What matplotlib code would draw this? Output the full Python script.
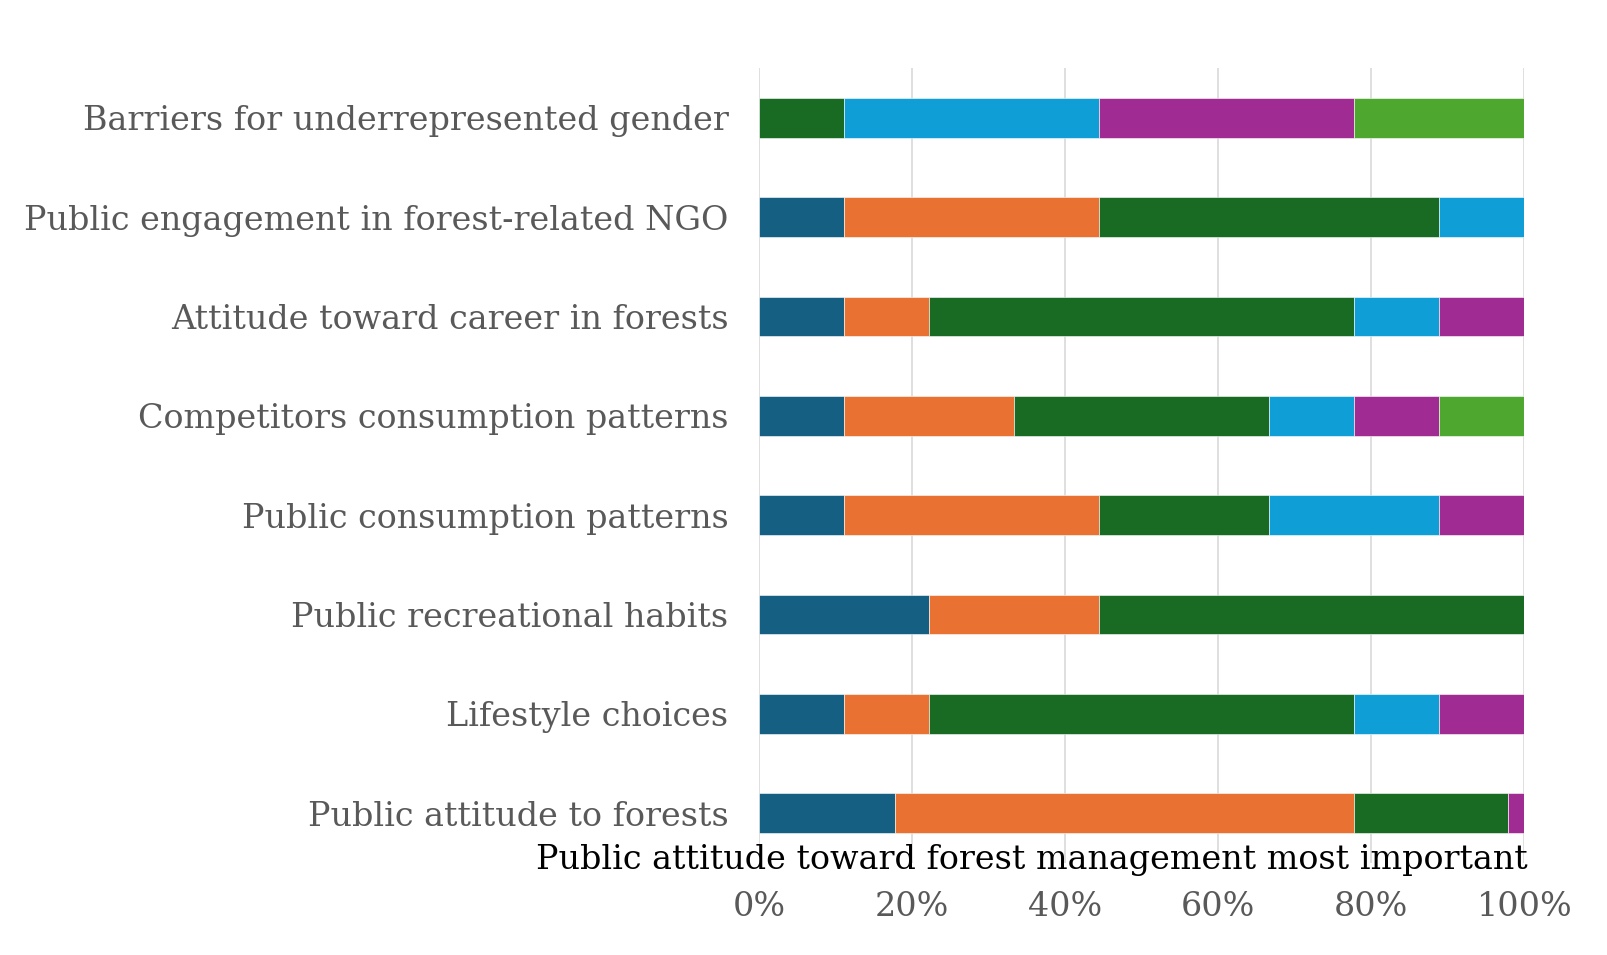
import numpy as np
import matplotlib.pyplot as plt

# categories, bottom to top
categories = [
    "Public attitude to forests",
    "Lifestyle choices",
    "Public recreational habits",
    "Public consumption patterns",
    "Competitors consumption patterns",
    "Attitude toward career in forests",
    "Public engagement in forest-related NGO",
    "Barriers for underrepresented gender",
]

# percent share of each rank, same order as categories
rank1 = [17.8, 11.1, 22.2, 11.1, 11.1, 11.1, 11.1, 0.0]
rank2 = [60.0, 11.1, 22.2, 33.3, 22.2, 11.1, 33.3, 0.0]
rank3 = [20.0, 55.6, 55.6, 22.2, 33.3, 55.6, 44.4, 11.1]
rank4 = [0.0, 11.1, 0.0, 22.2, 11.1, 11.1, 11.1, 33.3]
rank5 = [2.2, 11.1, 0.0, 11.1, 11.1, 11.1, 0.0, 33.3]
rank6 = [0.0, 0.0, 0.0, 0.0, 11.1, 0.0, 0.0, 22.2]

series = [rank1, rank2, rank3, rank4, rank5, rank6]
colors = ["#156082", "#E97132", "#196B24", "#0F9ED5", "#A02B93", "#4EA72E"]

ticks = [0, 20, 40, 60, 80, 100]
tick_labels = ["0%", "20%", "40%", "60%", "80%", "100%"]

title = "Public attitude toward forest management most important"

plt.rcParams['font.family'] = ['DejaVu Serif']

fig = plt.figure(figsize=(16.08, 9.55), dpi=100)
ax = fig.add_axes([0.472, 0.0963, 0.476, 0.8325])

y = np.arange(len(categories))
left = np.zeros(len(categories))
for vals, c in zip(series, colors):
    vals = np.array(vals)
    ax.barh(y, vals, left=left, height=0.4, color=c, edgecolor="white", linewidth=0.4)
    left += vals

ax.set_xlim(0, 100)
ax.set_ylim(-0.5, len(categories) - 0.5)
ax.set_xticks(ticks)
ax.set_xticklabels(tick_labels)
ax.set_yticks(y)
ax.set_yticklabels(categories)
ax.tick_params(axis="x", length=0, pad=20, labelsize=24, labelcolor="#595959")
ax.tick_params(axis="y", length=0, pad=22, labelsize=24, labelcolor="#595959")
ax.grid(axis="x", color="#d9d9d9", linewidth=1.2)
ax.set_axisbelow(True)
for s in ax.spines.values():
    s.set_visible(False)

fig.text(1032 / 1608, 1 - 860 / 955, title, ha="center", va="center",
         fontsize=24, color="black")

fig.savefig("out.png", dpi=100)
